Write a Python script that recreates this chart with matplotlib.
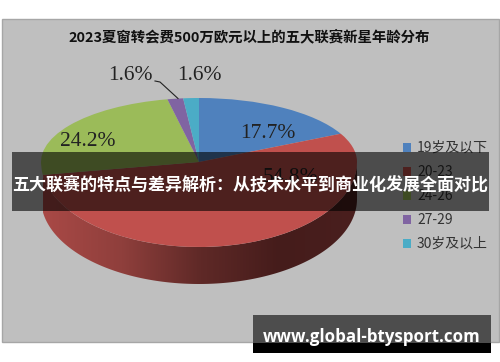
import numpy as np
import matplotlib
matplotlib.use("Agg")
import matplotlib.pyplot as plt
from matplotlib.patches import Rectangle, Polygon
from matplotlib.colors import LinearSegmentedColormap

categories = ["19岁及以下", "20-23", "24-26", "27-29", "30岁及以上"]
shares = [17.7, 54.8, 24.2, 1.6, 1.6]
share_labels = ["17.7%", "54.8%", "24.2%", "1.6%", "1.6%"]
colors = ["#4f81bd", "#c0504d", "#9bbb59", "#8064a2", "#4bacc6"]
title = "2023夏窗转会费500万欧元以上的五大联赛新星年龄分布"
banner = "五大联赛的特点与差异解析：从技术水平到商业化发展全面对比"
site = "www.global-btysport.com"

W, H = 500, 362
CJK = ["Noto Sans CJK SC", "DejaVu Sans"]
plt.rcParams["font.family"] = CJK

fig = plt.figure(figsize=(W / 100, H / 100), dpi=100, facecolor="white")

def px_axes(x0, y0, x1, y1, z):
    a = fig.add_axes([x0 / W, 1 - y1 / H, (x1 - x0) / W, (y1 - y0) / H], zorder=z)
    a.axis("off")
    return a

# pie geometry in pixels
cx, cy, rx, ry_up, ry_lo, depth = 199, 162, 158, 64, 85, 37

bg = px_axes(0, 0, W, H, 0)
bg.set_xlim(0, W); bg.set_ylim(H, 0)
bg.add_patch(Rectangle((1.5, 18.5), 497, 323.5, fc="#bfbfbf", ec="#a6a6a6", lw=1))

# red slice side wall, computed from the shares
fr = np.cumsum(shares) / np.sum(shares)
a_end = 90 - 360 * fr[1]
th = np.radians(np.linspace(0, a_end, 200))
xs = cx + rx * np.cos(th)
ytop = cy - ry_lo * np.sin(th)
poly = np.vstack([np.c_[xs, ytop], np.c_[xs, ytop + depth][::-1]])
clip = Polygon(poly, transform=bg.transData, fc="none", ec="none")
bg.add_patch(clip)
cmap = LinearSegmentedColormap.from_list("wall", ["#a94946", "#8f3f3c", "#5f2927", "#451c1b", "#4a1f1e"])
im = bg.imshow(np.linspace(0, 1, 256)[None, :], cmap=cmap, aspect="auto",
               extent=(xs.min(), xs.max(), (ytop + depth).max(), ytop.min()), zorder=1)
im.set_clip_path(clip)
bg.set_xlim(0, W); bg.set_ylim(H, 0)

# top face: same pie, upper half and lower half squashed differently
ax_up = px_axes(cx - rx, cy - ry_up, cx + rx, cy, 1)
ax_lo = px_axes(cx - rx, cy, cx + rx, cy + ry_lo, 2)
for a, yl in ((ax_up, (0, 1)), (ax_lo, (-1, 0))):
    wedges, _ = a.pie(shares, colors=colors, startangle=90, counterclock=False, radius=1,
                      wedgeprops=dict(linewidth=0, clip_on=True))
    a.set_aspect("auto")
    a.set_xlim(-1, 1)
    a.set_ylim(*yl)

ov = px_axes(0, 0, W, H, 3)
ov.set_xlim(0, W); ov.set_ylim(H, 0)
ov.patch.set_alpha(0)

ov.text(249.5, 37, title, ha="center", va="center", fontsize=10.4, fontweight="bold", color="#111111")

SERIF = ["Liberation Serif", "DejaVu Serif"]
label_pos = [(268, 134), (291, 177), (88, 142), (130, 75), (199, 76)]
for s, (lx, ly) in zip(share_labels, label_pos):
    ov.text(lx, ly, s, ha="center", va="center", fontsize=15.5, family=SERIF, color="#222222", zorder=2)
ov.plot([155, 160, 178], [81, 82, 98.5], color="#222222", lw=0.8, zorder=2)

handles = [Rectangle((0, 0), 1, 1, fc=c, ec="none") for c in colors]
leg = ov.legend(handles, categories, loc="center left", bbox_to_anchor=(402.5 / W, 1 - 196 / H),
                frameon=False, fontsize=10, handlelength=0.6, handleheight=0.6,
                handletextpad=0.45, labelspacing=0.72, borderpad=0, borderaxespad=0,
                labelcolor="#333333")
leg.set_zorder(2)

ov.add_patch(Rectangle((12, 152), 477, 59, fc="black", alpha=0.6, ec="none", zorder=3))
ov.text(250.5, 185, banner, ha="center", va="center", fontsize=12.25, fontweight="bold", color="white", zorder=4)

ov.add_patch(Rectangle((253, 315), 238, 28, fc="#4d4d4d", ec="none", zorder=3))
ov.add_patch(Rectangle((253, 343), 238, 10, fc="black", ec="none", zorder=3))
ov.text(371.5, 336.5, site, ha="center", va="center", fontsize=12.2, fontweight="bold",
        family=["Open Sans", "DejaVu Sans"], color="white", zorder=4)

fig.savefig("out.png", dpi=100)
